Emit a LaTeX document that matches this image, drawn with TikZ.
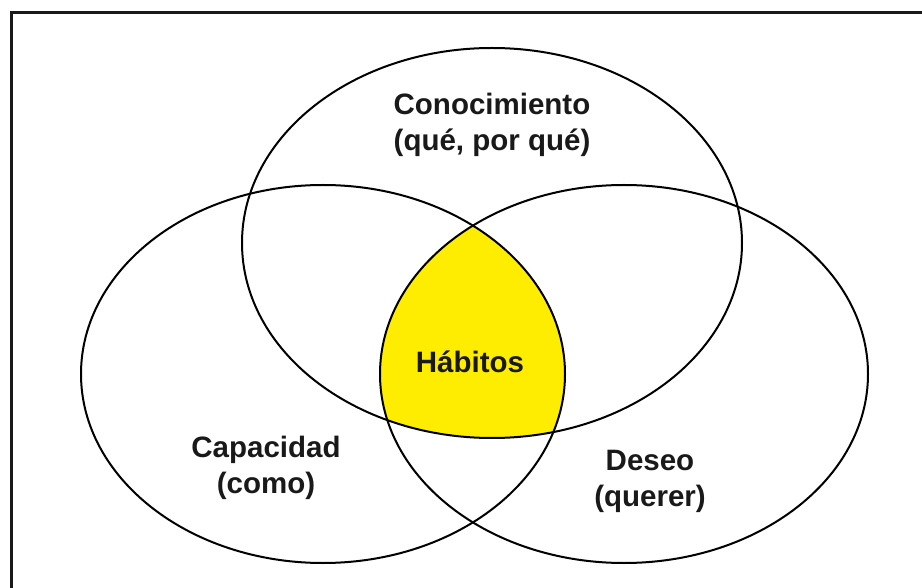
\documentclass[tikz,border=0pt]{standalone}
\usepackage{fontspec}
\setmainfont{Liberation Sans}
\definecolor{amarillo}{RGB}{255,237,0}
\tikzset{
  venn/.style={draw=black, line width=2pt},
  marco/.style={draw=black!90, line width=3pt},
  etiqueta/.style={font=\fontsize{29.5}{36}\selectfont\bfseries, align=center, text=black!90, inner sep=0pt}
}
\newcommand{\conocimiento}{(492,243) ellipse (250 and 195)}
\newcommand{\capacidad}{(323,374) ellipse (242 and 189)}
\newcommand{\deseo}{(624,374) ellipse (244 and 189)}

\begin{document}
\begin{tikzpicture}[x=1pt,y=-1pt]
\useasboundingbox (0,0) rectangle (922,588);
\draw[marco] (11,592) |- (926,13);
% zona comun
\begin{scope}
  \clip \conocimiento;
  \clip \capacidad;
  \fill[amarillo] \deseo;
\end{scope}
\draw[venn] \conocimiento;
\draw[venn] \capacidad;
\draw[venn] \deseo;
\node[etiqueta] (cono) at (492,125) {Conocimiento\\(qué, por qué)};
\node[etiqueta] (habi) at (470,362) {Hábitos};
\node[etiqueta] (capa) at (266,468) {Capacidad\\(como)};
\node[etiqueta] (dese) at (650,481) {Deseo\\(querer)};
\end{tikzpicture}
\end{document}
